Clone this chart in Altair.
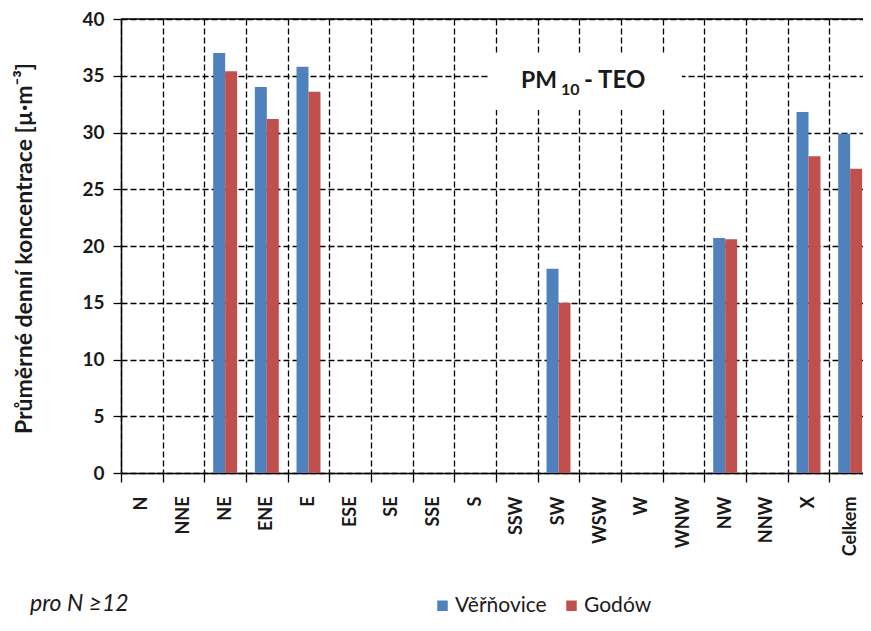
import altair as alt
import pandas as pd

categories = ["N", "NNE", "NE", "ENE", "E", "ESE", "SE", "SSE", "S", "SSW",
              "SW", "WSW", "W", "WNW", "NW", "NNW", "X", "Celkem"]
stations = ["Věřňovice", "Godów"]
vernovice = [None, None, 37.0, 34.0, 35.8, None, None, None, None, None,
             18.0, None, None, None, 20.7, None, 31.8, 29.9]
godow = [None, None, 35.4, 31.2, 33.6, None, None, None, None, None,
         15.0, None, None, None, 20.6, None, 27.9, 26.8]
colors = ["#4F81BD", "#C0504D"]
y_ticks = [0, 5, 10, 15, 20, 25, 30, 35, 40]

rows = []
for c, a, b in zip(categories, vernovice, godow):
    if a is not None:
        rows.append({"smer": c, "stanice": stations[0], "hodnota": a})
    if b is not None:
        rows.append({"smer": c, "stanice": stations[1], "hodnota": b})
df = pd.DataFrame(rows)

FONT = "Lato"
W, H = 742, 454

x_enc = alt.X("smer:N", sort=categories,
              scale=alt.Scale(domain=categories, paddingInner=0, paddingOuter=0, range=[0, 750]),
              axis=alt.Axis(title=None, labelAngle=-90, labelFont=FONT, labelFontSize=18,
                            labelFontWeight="bold", labelColor="#1a1a1a", labelPadding=14,
                            tickBand="extent", tickSize=9, tickColor="black", tickWidth=1.3,
                            domainColor="black", domainWidth=1.5,
                            grid=True, gridColor="black", gridDash=[6, 3], gridWidth=1.3))
y_enc = alt.Y("hodnota:Q",
              scale=alt.Scale(domain=[0, 40], nice=False),
              axis=alt.Axis(title="Průměrné denní koncentrace [µ·m⁻³]", values=y_ticks,
                            labelFont=FONT, labelFontSize=19, labelFontWeight="bold",
                            labelColor="#1a1a1a", labelPadding=9,
                            tickSize=8, tickColor="black", tickWidth=1.3,
                            domainColor="black", domainWidth=1.5,
                            grid=True, gridColor="black", gridDash=[6, 3], gridWidth=1.3,
                            titleFont=FONT, titleFontSize=23, titleFontWeight="bold",
                            titleColor="#1a1a1a", titleX=-97, titleY=H / 2 + 2,
                            titleAngle=270, titleAlign="center", titleBaseline="middle"))

bars = alt.Chart(df).mark_bar().encode(
    x=x_enc,
    xOffset=alt.XOffset("stanice:N", sort=stations,
                        scale=alt.Scale(domain=stations, paddingOuter=0.74, paddingInner=0)),
    y=y_enc,
    color=alt.Color("stanice:N", sort=stations,
                    scale=alt.Scale(domain=stations, range=colors),
                    legend=alt.Legend(title=None, orient="none", direction="horizontal",
                                      legendX=311, legendY=576, symbolType="square",
                                      symbolSize=110, symbolStrokeWidth=0,
                                      labelFont=FONT, labelFontSize=21, labelColor="#1a1a1a",
                                      columnPadding=14, labelOffset=2)),
)

top_rule = alt.Chart(pd.DataFrame({"v": [40]})).mark_rule(color="black", strokeWidth=1.5).encode(
    y=alt.Y("v:Q", scale=alt.Scale(domain=[0, 40], nice=False))
)

box = alt.Chart(pd.DataFrame({"a": [0]})).mark_rect(fill="white").encode(
    x=alt.value(367), x2=alt.value(561), y=alt.value(34), y2=alt.value(91)
)

t_pm = alt.Chart(pd.DataFrame({"t": ["PM"]})).mark_text(
    font=FONT, fontSize=23, fontWeight="bold", color="#1a1a1a", align="left", baseline="alphabetic"
).encode(text="t:N", x=alt.value(400), y=alt.value(69))
t_sub = alt.Chart(pd.DataFrame({"t": ["10"]})).mark_text(
    font=FONT, fontSize=16, fontWeight="bold", color="#1a1a1a", align="left", baseline="alphabetic"
).encode(text="t:N", x=alt.value(440), y=alt.value(76))
t_teo = alt.Chart(pd.DataFrame({"t": ["- TEO"]})).mark_text(
    font=FONT, fontSize=24, fontWeight="bold", color="#1a1a1a", align="left", baseline="alphabetic"
).encode(text="t:N", x=alt.value(463), y=alt.value(69))

note = alt.Chart(pd.DataFrame({"t": ["pro N ≥12"]})).mark_text(
    font=FONT, fontSize=23, fontStyle="italic", color="#1a1a1a", align="left", baseline="middle"
).encode(text="t:N", x=alt.value(-91), y=alt.value(585))

chart = alt.layer(bars, top_rule, box, t_pm, t_sub, t_teo, note).properties(
    width=W, height=H,
    autosize=alt.AutoSizeParams(type="none"),
    padding={"left": 113, "top": 11, "right": 0, "bottom": 145},
).configure_view(
    fill="#EFEFEF", stroke=None
).configure(background="white")

chart.save("out.html", embed_options={"renderer": "svg", "actions": False})
